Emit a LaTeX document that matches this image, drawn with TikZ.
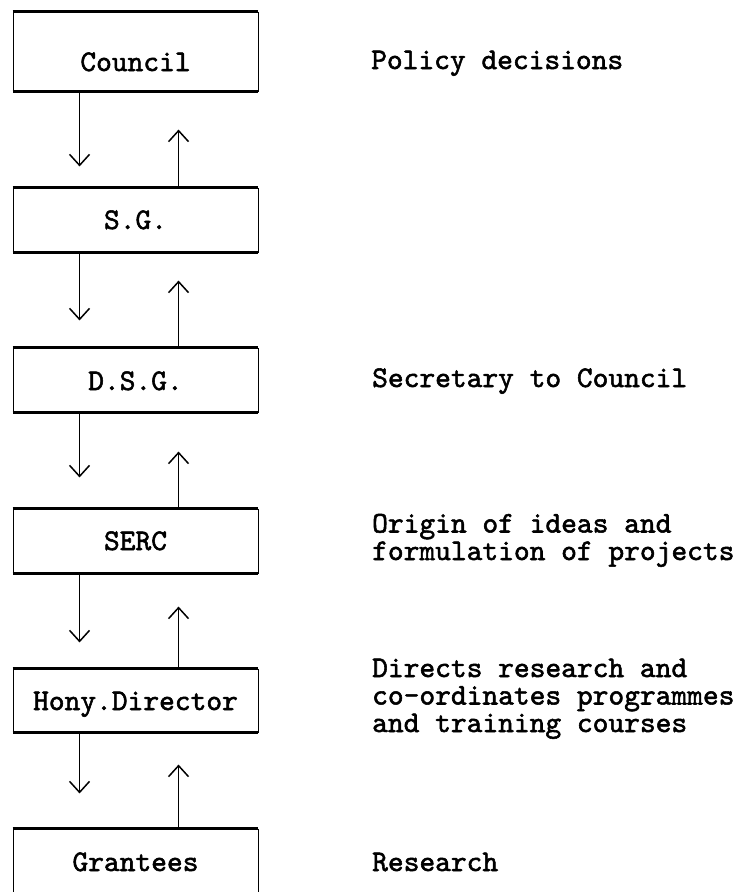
\documentclass[tikz,border=0pt]{standalone}
\usepackage{fontspec}
\usetikzlibrary{arrows.meta}
\newfontfamily\tyface{lmmono10-regular.otf}[FakeBold=1.8]
\newcommand\tyfont{\fontsize{30}{27.5}\selectfont\tyface}
\begin{document}
\begin{tikzpicture}[x=1pt,y=-1pt,
  box/.style={draw, line width=0.9pt, minimum width=245pt, minimum height=64pt,
    inner sep=0pt, text height=18pt, text depth=0pt, font=\tyfont},
  edge/.style={line width=3.2pt, line cap=square},
  flow/.style={line width=1.5pt, -{Straight Barb[length=11pt,width=20pt]}},
  note/.style={anchor=base west, align=left, inner sep=0pt, font=\tyfont}]
\useasboundingbox (0,0) rectangle (746,892);
\clip (0,0) rectangle (746,892);
% boxes
\node[box, minimum height=79pt, text height=39pt] (council) at (135.5,51.5) {Council};
\node[box] (sg) at (135.5,220) {S.G.};
\node[box, text height=20pt] (dsg) at (135.5,380) {D.S.G.};
\node[box] (serc) at (135.5,541) {SERC};
\node[box, minimum height=63pt, text height=19pt] (hony) at (135.5,700.5) {Hony.Director};
\node[box, minimum height=70pt, text height=14pt] (grant) at (135.5,864) {Grantees};
\foreach \n in {council,sg,dsg,serc,hony,grant}{
  \draw[edge] (\n.north west) -- (\n.north east);
  \draw[edge] (\n.south west) -- (\n.south east);
}
% connectors
\draw[flow] ([xshift=67pt]council.south west) -- ++(0,75);
\draw[flow] ([xshift=166pt]sg.north west) -- ++(0,-58);
\draw[flow] ([xshift=67pt]sg.south west) -- ++(0,68);
\draw[flow] ([xshift=166pt]dsg.north west) -- ++(0,-67);
\draw[flow] ([xshift=67pt]dsg.south west) -- ++(0,65);
\draw[flow] ([xshift=166pt]serc.north west) -- ++(0,-57);
\draw[flow] ([xshift=67pt]serc.south west) -- ++(0,69);
\draw[flow] ([xshift=166pt]hony.north west) -- ++(0,-62);
\draw[flow] ([xshift=67pt]hony.south west) -- ++(0,61);
\draw[flow] ([xshift=166pt]grant.north west) -- ++(0,-64);
% notes (base anchor = last line baseline)
\node[note] (t1) at (371,69) {Policy decisions};
\node[note] (t2) at (372,387) {Secretary to Council};
\node[note] (t3) at (372,560) {Origin of ideas and\\formulation of projects};
\node[note] (t4) at (372,732) {Directs research and\\co-ordinates programmes\\and training courses};
\node[note] (t5) at (372,871) {Research};
\end{tikzpicture}
\end{document}
